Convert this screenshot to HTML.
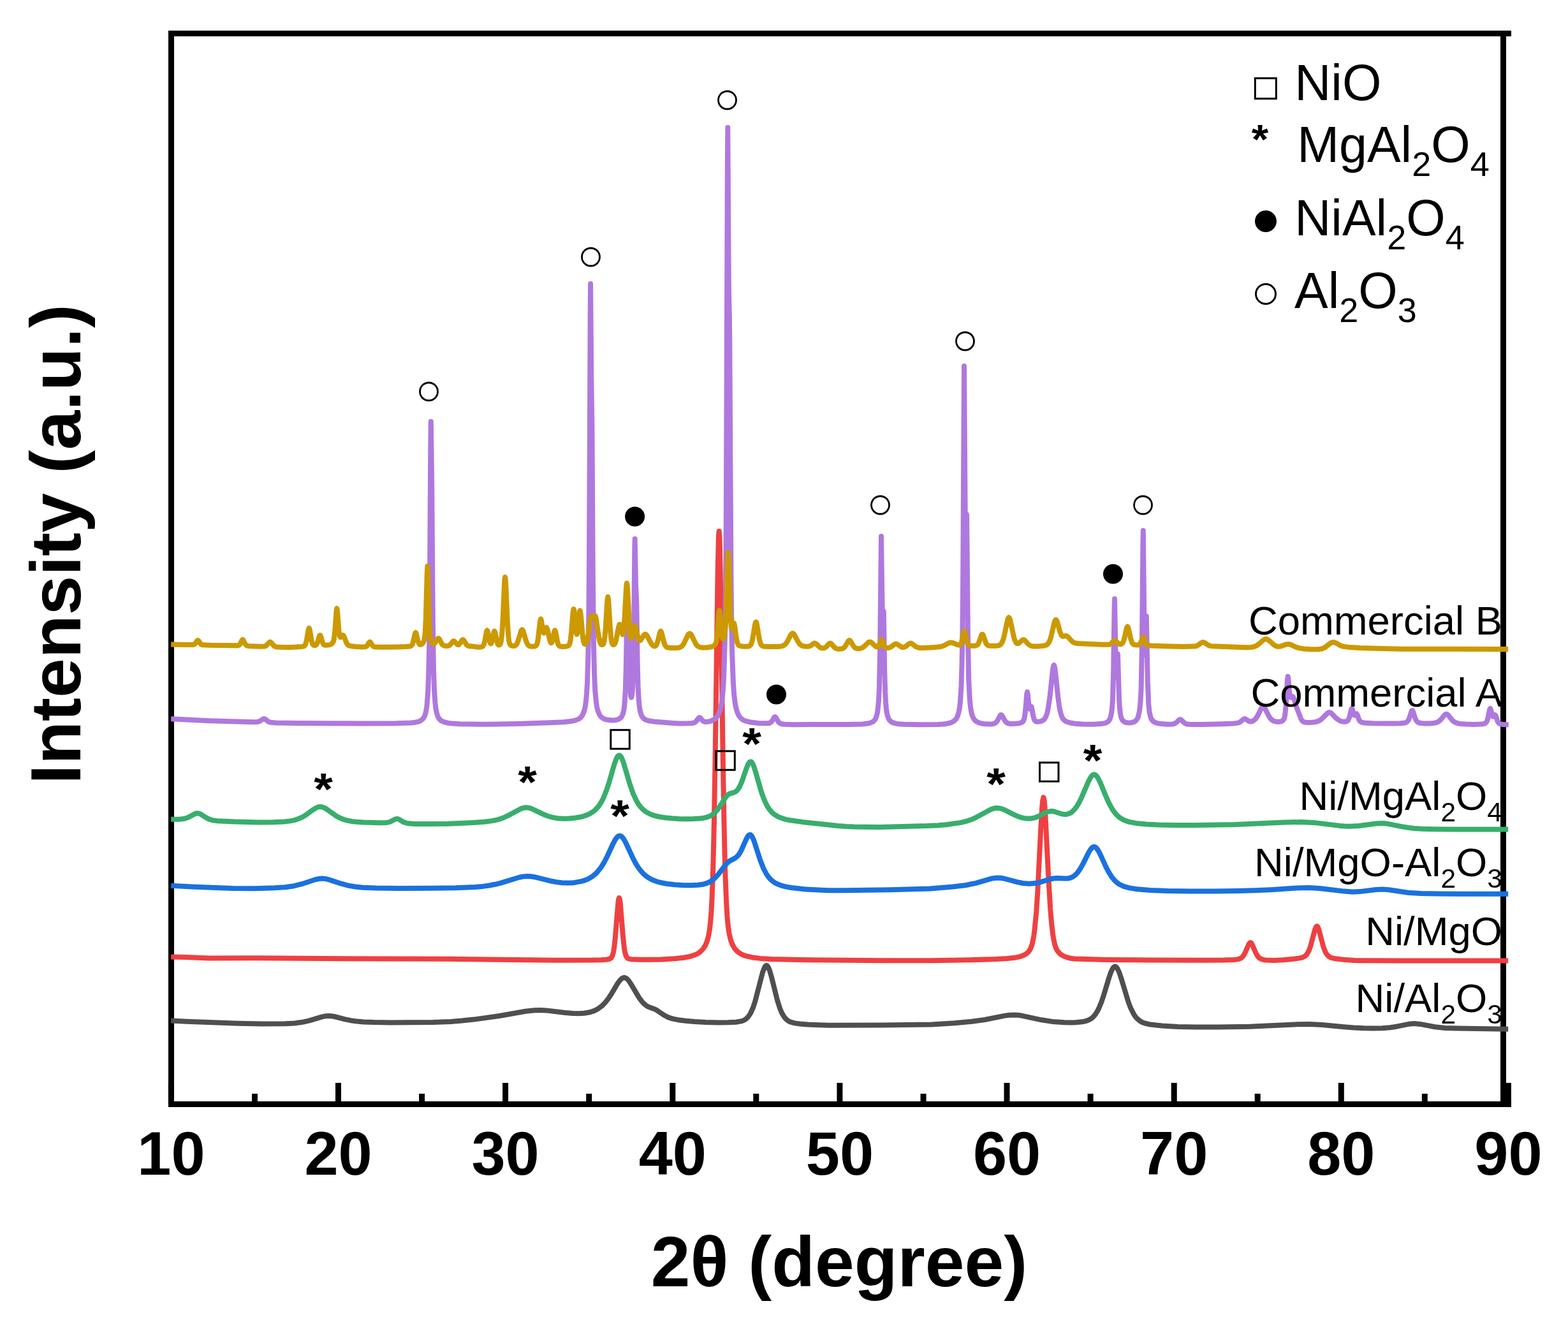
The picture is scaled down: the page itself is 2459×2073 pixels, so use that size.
<!DOCTYPE html>
<html><head><meta charset="utf-8"><title>XRD patterns</title>
<style>
html,body{margin:0;padding:0;background:#fff;}
svg{display:block;}
text{font-family:"Liberation Sans",Arial,sans-serif;}
</style></head><body>
<svg width="2459" height="2073" viewBox="0 0 2459 2073">
<rect width="2459" height="2073" fill="#fff"/>

<g stroke="#000" stroke-width="9" fill="none" stroke-linecap="butt">
<path d="M264 52.5H2370"/>
<path d="M264 1731.5H2370"/>
<path d="M268.5 48V1736"/>
<path d="M2357.5 48V1736"/>
<path d="M268.4 1731.5V1698.0M399.5 1731.5V1715.0M530.5 1731.5V1698.0M661.6 1731.5V1715.0M792.6 1731.5V1698.0M923.7 1731.5V1715.0M1054.8 1731.5V1698.0M1185.8 1731.5V1715.0M1316.9 1731.5V1698.0M1448.0 1731.5V1715.0M1579.0 1731.5V1698.0M1710.1 1731.5V1715.0M1841.2 1731.5V1698.0M1972.2 1731.5V1715.0M2103.3 1731.5V1698.0M2234.3 1731.5V1715.0M2365.4 1731.5V1698.0"/>
</g>
<g fill="none" stroke-width="8" stroke-linejoin="round" stroke-linecap="butt">
<path d="M268.2 1600.4L292.2 1601.7 373.2 1604.8 412.2 1605.5 447.2 1605.3 462.2 1604.5 474.2 1602.8 485.2 1600.3 505.2 1594.3 510.2 1593.3 515.2 1593.0 519.2 1593.2 524.2 1594.0 541.2 1598.3 550.2 1600.2 560.2 1601.6 570.2 1602.5 586.2 1603.1 612.2 1603.4 679.2 1603.0 707.2 1602.0 724.2 1600.6 743.2 1598.6 783.2 1593.0 824.2 1585.7 838.2 1584.2 847.2 1584.0 856.2 1584.4 886.2 1588.0 898.2 1589.0 908.2 1589.2 916.2 1588.8 925.2 1587.3 932.2 1584.9 938.2 1581.7 944.2 1577.1 949.2 1572.0 954.2 1565.6 959.2 1557.9 968.2 1542.8 971.2 1538.4 973.2 1536.1 975.2 1534.3 977.2 1533.3 979.0 1533.0 980.2 1533.2 982.2 1534.1 984.2 1535.8 986.2 1538.1 990.2 1544.2 1002.2 1564.4 1006.2 1569.9 1010.2 1574.2 1013.2 1576.6 1016.2 1578.5 1026.2 1582.2 1029.2 1583.6 1041.2 1591.8 1048.2 1595.4 1055.2 1597.6 1063.2 1599.2 1075.2 1600.7 1089.2 1601.9 1107.2 1602.9 1126.2 1603.4 1142.2 1603.3 1154.2 1602.7 1162.2 1601.4 1165.2 1600.5 1168.2 1599.0 1171.2 1596.7 1173.2 1594.6 1177.2 1588.6 1181.2 1579.4 1184.2 1570.3 1196.2 1524.0 1199.2 1516.5 1200.2 1515.0 1201.2 1514.2 1202.0 1514.0 1203.2 1514.5 1204.2 1515.6 1205.2 1517.4 1207.2 1522.5 1210.2 1533.0 1219.2 1569.1 1223.2 1581.5 1226.2 1588.6 1230.2 1595.3 1234.2 1599.4 1236.2 1600.9 1239.2 1602.4 1246.2 1604.4 1254.2 1605.5 1266.2 1606.5 1300.2 1607.7 1381.2 1607.4 1461.2 1606.4 1497.2 1604.3 1524.2 1601.8 1544.2 1599.0 1576.2 1592.6 1583.2 1591.8 1589.2 1591.5 1596.2 1591.8 1603.2 1592.8 1633.2 1599.3 1650.2 1601.9 1669.2 1603.3 1679.2 1603.5 1687.2 1603.2 1699.2 1601.9 1703.2 1601.0 1707.2 1599.5 1710.2 1597.9 1713.2 1595.7 1716.2 1592.6 1718.2 1590.0 1721.2 1585.1 1723.2 1581.2 1727.2 1571.5 1731.2 1559.7 1739.2 1533.0 1742.2 1524.4 1745.2 1518.2 1747.2 1516.0 1748.7 1515.5 1750.2 1516.1 1752.2 1518.4 1755.2 1524.8 1758.2 1533.7 1769.2 1570.2 1773.2 1580.8 1778.2 1590.6 1780.2 1593.6 1783.2 1597.2 1788.2 1601.3 1791.2 1603.0 1795.2 1604.5 1804.2 1606.6 1822.2 1608.6 1847.2 1609.9 1874.2 1610.5 1911.2 1610.5 1960.2 1609.8 2030.2 1606.4 2053.2 1606.0 2073.2 1607.0 2107.2 1610.3 2123.2 1611.5 2139.2 1612.3 2153.2 1612.6 2168.2 1612.2 2180.2 1611.2 2190.2 1609.7 2209.2 1605.8 2218.2 1605.0 2227.2 1605.9 2250.2 1610.3 2266.2 1611.9 2284.2 1612.5 2365.2 1613.7" stroke="#4f4f4f"/>
<path d="M268.2 1500.6L292.2 1501.0 328.2 1502.4 400.2 1502.3 540.2 1503.2 702.2 1503.7 873.2 1505.8 929.0 1505.6 943.2 1505.2 952.0 1504.5 956.3 1503.5 958.7 1501.8 960.6 1498.3 962.1 1492.4 963.4 1484.1 964.7 1472.0 969.2 1417.3 970.1 1410.3 970.6 1408.6 971.0 1408.0 971.5 1408.7 972.0 1410.7 973.0 1418.5 976.9 1467.5 978.9 1486.3 980.0 1492.9 981.3 1497.6 982.7 1500.8 984.5 1502.7 986.8 1503.6 990.2 1504.2 1004.0 1504.8 1036.2 1504.4 1057.2 1503.3 1072.2 1501.7 1083.0 1499.6 1091.2 1496.8 1094.7 1495.0 1097.7 1492.9 1102.2 1488.5 1105.7 1483.3 1108.7 1476.4 1111.0 1468.1 1112.8 1458.2 1114.2 1445.7 1115.5 1429.0 1116.6 1408.1 1118.4 1356.7 1120.0 1285.0 1121.8 1175.8 1125.6 899.2 1126.7 848.9 1127.2 837.1 1127.7 833.0 1128.2 837.3 1128.7 849.5 1129.7 898.0 1133.6 1180.0 1135.5 1290.2 1137.2 1365.8 1139.2 1416.7 1140.4 1437.0 1141.8 1452.2 1143.6 1464.2 1145.7 1473.4 1148.5 1481.0 1152.0 1487.1 1156.2 1491.9 1161.7 1495.8 1165.2 1497.4 1169.2 1498.9 1179.2 1501.2 1192.2 1502.9 1210.2 1504.0 1255.2 1505.1 1389.2 1506.3 1459.2 1506.2 1521.2 1505.2 1562.2 1504.1 1579.2 1503.1 1591.2 1501.8 1599.2 1500.2 1606.2 1497.5 1609.2 1495.8 1612.2 1493.2 1614.2 1490.7 1616.2 1487.2 1618.2 1481.9 1619.2 1478.2 1621.2 1467.9 1622.2 1460.9 1625.2 1430.1 1627.2 1399.9 1632.2 1300.2 1634.2 1265.8 1635.2 1255.1 1636.4 1250.3 1637.2 1252.5 1638.2 1260.9 1639.2 1274.7 1644.2 1374.6 1647.2 1425.0 1649.2 1449.0 1651.2 1465.8 1652.2 1472.0 1654.2 1481.1 1656.2 1487.0 1658.2 1490.8 1661.2 1494.6 1664.2 1497.1 1668.2 1499.3 1672.2 1500.9 1679.2 1502.8 1685.2 1503.4 1737.2 1504.9 1806.2 1505.5 1886.2 1505.7 1919.2 1505.6 1935.2 1505.0 1940.2 1504.4 1943.2 1503.7 1946.2 1502.3 1948.2 1500.7 1950.2 1498.3 1952.2 1494.8 1958.2 1481.0 1959.2 1479.3 1960.2 1478.3 1961.0 1478.0 1962.2 1478.6 1963.2 1480.0 1969.2 1493.9 1972.2 1499.2 1975.2 1502.4 1978.2 1504.0 1981.2 1504.9 1985.2 1505.5 1998.2 1506.0 2012.2 1505.3 2030.2 1503.5 2038.2 1502.4 2043.2 1501.1 2047.2 1498.8 2050.2 1495.3 2053.2 1489.4 2055.2 1483.7 2062.2 1457.4 2064.2 1452.9 2065.2 1452.3 2066.2 1452.9 2068.2 1457.4 2075.2 1484.0 2077.2 1489.7 2079.2 1494.1 2081.2 1497.1 2084.2 1500.0 2087.2 1501.6 2092.2 1503.0 2110.2 1505.1 2124.2 1506.0 2133.2 1506.2 2199.2 1506.5 2365.2 1506.5" stroke="#ef4041"/>
<path d="M268.2 1388.7L300.2 1390.6 365.2 1393.1 400.2 1393.3 430.2 1392.3 447.2 1391.2 461.2 1389.2 473.2 1386.2 495.2 1379.0 500.2 1378.0 505.2 1377.6 510.2 1378.0 515.2 1379.1 535.2 1385.7 546.2 1388.6 557.2 1390.5 569.2 1391.7 590.2 1392.5 625.2 1392.9 676.2 1392.8 714.2 1392.3 745.2 1391.0 757.2 1389.9 767.2 1388.5 776.2 1386.8 785.2 1384.6 814.2 1375.7 821.2 1374.4 827.2 1374.0 832.2 1374.3 838.2 1375.2 862.2 1381.2 874.2 1383.4 881.2 1384.2 888.2 1384.5 895.2 1384.4 901.2 1383.9 912.2 1381.9 917.2 1380.4 921.2 1378.8 925.2 1376.7 929.2 1374.2 933.2 1370.9 936.2 1368.0 942.2 1360.6 947.2 1352.6 952.2 1343.0 961.2 1323.5 965.2 1316.1 968.2 1312.3 970.2 1310.9 971.8 1310.6 973.2 1310.9 975.2 1312.2 977.2 1314.4 979.2 1317.5 982.2 1323.2 993.2 1346.9 997.2 1354.3 1001.2 1360.6 1005.2 1365.9 1009.2 1370.2 1013.2 1373.7 1017.2 1376.5 1023.2 1379.8 1029.2 1382.1 1036.2 1384.0 1045.2 1385.7 1058.2 1387.2 1070.2 1388.1 1083.2 1388.3 1094.2 1387.8 1102.2 1386.8 1109.2 1384.7 1115.2 1381.7 1121.2 1376.9 1126.2 1371.4 1136.2 1358.2 1140.2 1353.5 1144.2 1350.1 1153.2 1345.4 1157.2 1341.8 1160.2 1337.6 1162.2 1334.0 1170.2 1316.1 1172.2 1312.3 1174.2 1309.7 1175.2 1309.1 1176.2 1308.9 1177.2 1309.2 1179.2 1311.3 1182.2 1317.7 1192.2 1348.7 1197.2 1361.5 1202.2 1371.0 1205.2 1375.3 1208.2 1378.7 1212.2 1382.2 1216.2 1384.8 1221.2 1387.1 1226.2 1388.9 1233.2 1390.6 1241.2 1392.0 1261.2 1394.2 1278.2 1395.3 1299.2 1396.2 1324.2 1396.2 1396.2 1395.3 1458.2 1393.4 1494.2 1390.5 1515.2 1388.0 1530.2 1384.8 1554.2 1377.8 1559.2 1376.9 1564.2 1376.5 1569.2 1376.7 1574.2 1377.5 1595.2 1383.2 1604.2 1385.0 1614.2 1385.8 1623.2 1385.1 1631.2 1383.4 1645.2 1379.0 1651.2 1377.5 1658.2 1376.9 1669.2 1377.6 1674.2 1377.5 1679.2 1376.4 1683.2 1374.4 1686.2 1372.1 1689.2 1369.1 1694.2 1362.1 1698.2 1355.1 1707.2 1337.0 1710.2 1332.0 1713.2 1328.7 1714.2 1328.1 1716.0 1327.8 1717.2 1328.1 1719.2 1329.5 1722.2 1333.5 1725.2 1339.1 1734.2 1358.8 1738.2 1366.6 1743.2 1374.7 1746.2 1378.6 1749.2 1381.8 1752.2 1384.4 1755.2 1386.5 1762.2 1389.9 1771.2 1392.4 1783.2 1394.2 1804.2 1395.9 1831.2 1397.0 1865.2 1397.6 1905.2 1397.6 1940.2 1397.1 1968.2 1396.3 1992.2 1395.2 2033.2 1392.5 2052.2 1392.0 2069.2 1393.0 2108.2 1397.6 2120.2 1398.5 2124.2 1398.6 2132.2 1398.1 2158.2 1395.0 2168.0 1394.5 2178.2 1395.3 2208.2 1399.7 2228.2 1401.1 2257.2 1401.6 2365.2 1401.8" stroke="#1a71df"/>
<path d="M268.2 1284.8L281.2 1284.7 289.2 1283.7 295.2 1281.7 306.2 1275.9 308.2 1275.3 310.0 1275.2 312.2 1275.6 314.2 1276.4 323.2 1282.1 328.2 1284.6 334.2 1286.4 341.2 1287.3 368.2 1288.6 406.2 1289.4 428.2 1289.3 446.2 1288.4 453.2 1287.6 459.2 1286.6 464.2 1285.3 469.2 1283.5 473.2 1281.7 478.2 1278.9 491.2 1269.6 495.2 1267.1 499.2 1265.4 502.2 1265.0 505.2 1265.4 509.2 1267.0 513.2 1269.5 527.2 1279.5 532.2 1282.3 538.2 1284.8 544.2 1286.5 551.2 1287.9 559.2 1288.7 570.2 1289.4 596.2 1290.2 606.2 1289.9 609.2 1289.4 612.2 1288.5 620.2 1284.3 622.7 1283.8 625.2 1284.5 632.2 1288.7 636.2 1290.3 641.2 1291.3 650.2 1291.9 672.2 1292.1 702.2 1291.7 737.2 1290.2 759.2 1288.8 773.2 1286.9 779.2 1285.6 785.2 1283.8 790.2 1282.0 796.2 1279.2 816.2 1268.4 820.2 1267.0 824.8 1266.3 829.2 1266.7 833.2 1267.8 854.2 1277.8 860.2 1280.0 867.2 1281.9 875.2 1283.2 883.2 1283.7 892.2 1283.5 902.2 1282.5 909.2 1281.3 915.2 1279.8 920.2 1278.1 925.2 1275.8 929.2 1273.4 933.2 1270.3 937.2 1266.1 940.2 1262.2 943.2 1257.3 946.2 1251.5 951.2 1239.1 955.2 1226.9 963.2 1199.0 966.2 1190.5 968.2 1186.5 969.2 1185.3 971.0 1184.4 972.2 1184.8 974.2 1187.1 977.2 1194.0 988.2 1231.1 993.2 1245.2 998.2 1255.9 1001.2 1260.8 1004.2 1264.9 1008.2 1269.2 1012.2 1272.4 1017.2 1275.4 1022.2 1277.6 1028.2 1279.5 1035.2 1281.0 1043.2 1282.2 1054.2 1283.3 1065.2 1284.0 1076.2 1284.3 1087.2 1284.1 1096.2 1283.6 1103.2 1282.7 1108.2 1281.6 1113.2 1279.7 1117.2 1277.4 1121.2 1274.1 1125.2 1269.6 1129.2 1264.0 1137.2 1251.4 1140.2 1247.6 1142.2 1245.8 1144.2 1244.6 1151.2 1242.6 1153.2 1241.7 1155.2 1240.1 1157.2 1237.9 1160.2 1232.9 1163.2 1226.2 1170.2 1205.9 1173.2 1198.5 1175.2 1195.4 1176.2 1194.6 1177.2 1194.4 1178.2 1194.7 1179.2 1195.7 1180.2 1197.2 1182.2 1201.7 1185.2 1211.1 1193.2 1239.3 1196.2 1248.3 1199.2 1255.8 1202.2 1262.1 1206.2 1268.6 1210.2 1273.4 1214.2 1276.9 1219.2 1280.1 1224.2 1282.3 1231.2 1284.6 1239.2 1286.3 1258.2 1288.9 1314.2 1295.1 1327.2 1296.1 1339.2 1296.6 1379.2 1296.9 1453.2 1295.1 1471.2 1294.2 1483.2 1293.3 1505.2 1290.1 1512.2 1288.6 1519.2 1286.6 1525.2 1284.4 1531.2 1281.6 1553.2 1269.6 1558.2 1267.7 1562.2 1267.0 1566.2 1267.2 1571.2 1268.3 1576.2 1270.4 1589.2 1277.0 1596.2 1280.2 1603.2 1282.4 1610.2 1283.6 1617.2 1283.4 1623.2 1282.1 1629.2 1279.7 1641.2 1273.7 1644.2 1272.6 1647.2 1272.1 1650.2 1272.0 1653.2 1272.5 1663.2 1275.8 1667.2 1276.7 1671.2 1277.0 1674.2 1276.6 1678.2 1275.1 1681.2 1273.1 1685.2 1269.2 1688.2 1265.2 1691.2 1260.4 1695.2 1252.7 1706.2 1227.1 1709.2 1221.0 1711.2 1217.8 1713.2 1215.6 1714.2 1214.9 1716.0 1214.5 1717.2 1214.8 1719.2 1216.2 1722.2 1220.4 1726.2 1228.7 1734.2 1248.4 1739.2 1259.5 1744.2 1268.6 1749.2 1275.6 1752.2 1278.8 1755.2 1281.5 1758.2 1283.6 1762.2 1285.8 1766.2 1287.4 1771.2 1288.9 1782.2 1290.9 1798.2 1292.4 1818.2 1293.5 1844.2 1294.0 1873.2 1294.1 1936.2 1293.0 2014.2 1289.4 2041.2 1289.0 2060.2 1289.9 2101.2 1294.9 2108.2 1295.5 2116.2 1295.7 2131.2 1295.0 2157.2 1291.5 2167.2 1291.0 2172.2 1291.3 2178.2 1292.1 2198.2 1296.1 2208.2 1297.8 2218.2 1298.9 2230.2 1299.7 2250.2 1300.3 2284.2 1300.6 2365.2 1300.4" stroke="#38ae6c"/>
<path d="M268.2 1127.2L328.2 1130.2 398.0 1132.2 402.8 1132.0 405.8 1131.5 408.3 1130.3 412.4 1127.5 414.0 1127.0 415.6 1127.5 419.9 1130.9 422.7 1132.3 426.3 1133.1 432.8 1133.5 465.2 1134.1 570.2 1134.4 621.2 1134.2 644.2 1133.5 651.2 1132.7 656.2 1131.6 660.2 1129.8 663.1 1127.3 665.2 1124.2 666.9 1120.1 668.2 1114.7 669.4 1107.4 671.1 1085.9 672.2 1056.4 673.1 1014.3 673.7 954.6 675.3 701.9 675.8 661.0 677.2 761.9 678.9 980.0 680.0 1050.9 681.1 1082.8 682.4 1101.6 683.2 1109.2 684.4 1116.0 685.6 1120.7 687.1 1124.5 689.4 1127.9 692.2 1130.4 696.2 1132.2 702.2 1133.7 710.2 1134.6 721.2 1135.3 755.2 1135.8 783.2 1135.6 818.2 1134.8 861.2 1133.3 884.2 1132.2 895.2 1131.0 902.2 1129.6 907.2 1127.6 909.2 1126.3 911.2 1124.5 914.0 1120.3 916.0 1115.2 917.8 1107.7 919.0 1098.9 920.0 1088.1 921.0 1071.3 922.3 1029.0 923.3 970.7 924.0 882.4 925.7 492.5 926.1 445.0 927.3 594.9 928.4 667.5 929.9 909.5 931.0 1009.9 932.0 1053.8 933.2 1082.1 935.0 1101.7 936.2 1109.1 937.5 1114.5 939.8 1120.1 941.2 1122.4 943.2 1124.6 945.2 1126.1 948.2 1127.6 951.2 1128.5 955.2 1129.1 960.2 1129.4 964.2 1129.2 967.2 1128.7 970.4 1127.6 972.6 1126.2 974.4 1124.4 975.9 1122.0 977.1 1118.7 978.4 1113.1 979.4 1105.5 980.8 1082.2 981.8 1047.9 983.1 969.9 983.5 959.9 984.8 994.6 986.0 1011.8 988.0 1078.3 989.2 1091.7 989.9 1093.7 990.2 1093.6 990.6 1092.5 991.5 1086.3 992.2 1075.5 993.3 1039.9 994.1 982.9 995.3 863.4 995.7 845.1 997.0 915.9 998.3 944.9 999.6 1035.7 1000.6 1075.7 1001.4 1092.1 1002.6 1107.2 1004.1 1116.1 1005.9 1121.6 1007.9 1125.0 1010.2 1127.3 1013.2 1129.0 1017.2 1130.2 1025.2 1131.4 1053.2 1133.8 1065.8 1134.5 1080.0 1134.3 1085.2 1134.0 1088.2 1133.4 1090.0 1132.7 1091.4 1131.5 1095.6 1126.0 1096.9 1125.0 1098.3 1125.7 1101.3 1129.4 1102.8 1130.9 1104.6 1131.7 1106.7 1132.0 1111.5 1131.5 1116.2 1130.1 1120.0 1128.1 1123.2 1125.5 1125.0 1123.2 1126.6 1120.6 1129.2 1113.9 1131.2 1105.2 1132.9 1093.3 1134.1 1079.0 1135.2 1059.4 1136.9 1001.8 1138.1 917.5 1138.9 795.8 1140.8 269.4 1141.3 200.0 1142.8 445.0 1143.2 472.3 1143.9 496.7 1144.3 536.6 1146.4 897.5 1147.1 967.7 1148.1 1022.8 1149.9 1070.6 1151.1 1088.2 1152.6 1101.3 1154.4 1110.7 1156.6 1117.9 1159.2 1123.0 1161.2 1125.5 1163.2 1127.3 1166.2 1129.3 1169.2 1130.6 1177.2 1132.6 1189.7 1133.9 1204.0 1134.2 1207.0 1133.7 1209.2 1132.4 1211.0 1130.2 1214.1 1124.9 1214.8 1124.2 1215.4 1124.0 1216.8 1125.2 1220.9 1132.3 1222.3 1133.7 1223.9 1134.6 1226.3 1135.3 1230.2 1135.8 1243.9 1136.2 1331.2 1135.9 1352.2 1135.4 1360.2 1134.6 1365.2 1133.5 1369.0 1131.7 1371.8 1129.1 1373.2 1126.6 1374.5 1123.4 1375.5 1119.6 1376.5 1113.8 1377.9 1099.6 1378.9 1078.9 1380.2 1015.4 1382.0 841.0 1383.8 969.1 1384.4 979.5 1385.3 959.2 1385.5 957.9 1385.8 960.9 1387.2 1049.9 1388.2 1085.2 1389.0 1101.0 1390.0 1112.3 1391.2 1120.1 1393.0 1125.9 1394.8 1129.1 1397.2 1131.6 1400.2 1133.2 1404.2 1134.4 1409.2 1135.2 1417.2 1135.7 1442.2 1136.2 1471.2 1135.9 1479.2 1135.5 1485.2 1134.7 1490.2 1133.5 1494.2 1131.9 1497.2 1129.8 1500.0 1126.4 1502.0 1122.2 1503.5 1117.1 1504.8 1110.5 1505.8 1102.5 1507.5 1075.9 1508.6 1039.2 1509.4 989.9 1510.1 917.3 1512.0 574.0 1514.0 854.2 1514.3 869.0 1514.5 871.3 1514.7 869.8 1515.7 811.6 1515.9 806.8 1516.1 810.0 1518.0 1004.3 1519.2 1066.3 1520.8 1096.9 1521.8 1107.4 1522.8 1114.1 1524.2 1120.6 1526.2 1125.5 1528.5 1129.0 1531.2 1131.4 1536.0 1133.6 1542.5 1135.0 1551.5 1135.5 1555.5 1135.4 1558.3 1134.9 1560.8 1133.8 1562.8 1132.0 1564.7 1129.2 1568.3 1122.4 1569.2 1121.3 1570.0 1121.0 1570.9 1121.4 1571.8 1122.4 1575.2 1128.8 1576.9 1131.4 1578.7 1133.2 1580.7 1134.2 1585.2 1135.0 1593.0 1134.8 1598.8 1134.1 1602.5 1132.7 1604.1 1131.5 1605.2 1129.8 1606.1 1127.3 1606.9 1123.9 1608.2 1113.6 1610.2 1089.0 1611.0 1085.0 1611.7 1087.9 1613.4 1104.6 1614.3 1110.6 1614.8 1111.8 1615.3 1112.0 1617.0 1108.1 1617.3 1107.9 1617.7 1108.3 1620.6 1124.0 1622.3 1129.2 1623.2 1130.4 1624.2 1131.2 1627.5 1131.8 1632.0 1131.2 1636.0 1129.3 1638.2 1127.1 1640.2 1123.8 1642.2 1118.1 1643.2 1114.0 1646.2 1094.7 1651.2 1048.5 1652.2 1043.8 1652.8 1043.0 1653.2 1043.4 1654.2 1047.3 1655.2 1054.7 1659.2 1093.2 1661.2 1107.8 1662.2 1113.3 1664.2 1121.1 1666.2 1125.8 1668.2 1128.6 1670.2 1130.3 1672.2 1131.5 1678.2 1133.5 1686.2 1134.7 1697.2 1135.4 1714.2 1135.7 1726.2 1135.1 1733.2 1133.9 1735.8 1132.8 1737.8 1131.4 1739.2 1129.8 1740.5 1127.7 1742.5 1121.3 1743.9 1111.8 1744.9 1097.9 1746.1 1057.3 1747.6 953.9 1748.0 939.0 1749.6 1030.5 1750.3 1056.0 1750.8 1061.7 1751.0 1061.9 1751.2 1060.3 1752.5 1028.7 1752.8 1025.3 1753.0 1026.5 1755.0 1096.0 1755.8 1108.8 1757.0 1119.8 1758.0 1124.3 1759.5 1128.1 1761.5 1130.7 1764.2 1132.4 1766.2 1133.0 1769.2 1133.4 1774.2 1133.2 1778.8 1131.8 1780.5 1130.7 1782.0 1129.3 1783.8 1126.7 1785.0 1123.7 1787.0 1114.9 1788.5 1100.9 1789.6 1079.6 1790.9 1014.5 1792.4 854.9 1792.8 832.0 1794.5 984.0 1795.4 1023.9 1795.9 1026.8 1796.3 1020.4 1797.8 966.2 1799.8 1069.2 1801.3 1104.4 1802.5 1116.2 1804.3 1124.1 1805.5 1127.2 1807.2 1129.7 1808.8 1131.3 1810.8 1132.6 1815.0 1134.1 1821.2 1135.1 1830.8 1135.7 1838.8 1135.5 1841.4 1134.9 1843.5 1133.9 1845.5 1132.4 1849.1 1128.8 1850.8 1128.0 1852.5 1128.8 1856.2 1132.6 1858.2 1134.1 1860.5 1135.2 1863.5 1135.7 1871.2 1136.1 1885.8 1136.1 1917.0 1135.2 1935.0 1134.4 1941.3 1133.6 1944.8 1132.2 1950.0 1127.7 1951.9 1127.0 1953.5 1127.5 1958.5 1130.9 1960.3 1131.4 1962.2 1131.4 1964.1 1130.9 1966.0 1129.9 1969.5 1126.7 1972.5 1122.0 1978.2 1110.3 1979.5 1108.7 1980.8 1108.0 1982.0 1108.5 1983.2 1109.9 1990.0 1123.2 1992.0 1126.2 1994.2 1128.6 1997.2 1130.5 2000.8 1131.6 2005.5 1131.9 2009.5 1131.2 2011.8 1129.9 2013.3 1127.9 2014.5 1124.9 2015.3 1120.3 2016.8 1104.7 2018.9 1066.3 2019.7 1060.7 2020.3 1064.3 2022.2 1086.4 2023.3 1092.5 2023.8 1093.4 2024.3 1093.6 2026.0 1092.1 2026.8 1091.9 2028.1 1093.2 2029.5 1096.6 2033.3 1108.9 2039.9 1126.5 2041.2 1129.0 2042.5 1130.7 2044.0 1131.8 2045.8 1132.4 2050.8 1132.9 2058.0 1132.7 2063.0 1132.1 2067.0 1130.9 2070.2 1129.3 2073.2 1127.0 2082.2 1117.9 2084.7 1117.0 2086.2 1117.3 2088.2 1118.7 2095.4 1126.2 2100.2 1129.6 2102.9 1130.8 2105.8 1131.4 2109.0 1131.7 2111.5 1131.3 2113.7 1130.0 2115.3 1127.3 2116.7 1123.0 2119.0 1112.8 2119.5 1111.4 2120.0 1111.0 2120.8 1112.1 2122.7 1119.1 2123.8 1121.4 2124.3 1121.8 2124.8 1121.7 2126.8 1119.2 2127.6 1119.1 2128.5 1120.7 2131.1 1128.1 2132.7 1130.8 2135.1 1132.6 2139.5 1133.5 2153.2 1134.3 2181.2 1134.6 2196.2 1134.3 2203.5 1133.5 2206.4 1132.1 2208.6 1129.6 2210.4 1125.4 2213.4 1115.7 2214.1 1114.4 2214.7 1114.0 2215.3 1114.4 2216.0 1115.8 2219.1 1125.6 2221.0 1129.9 2223.3 1132.4 2226.7 1133.7 2232.7 1134.4 2241.2 1134.5 2247.7 1134.1 2252.2 1133.2 2255.2 1131.9 2257.2 1130.5 2260.2 1127.6 2265.2 1121.4 2267.2 1119.8 2268.2 1119.6 2269.2 1119.8 2271.2 1121.4 2276.2 1127.8 2279.2 1130.8 2282.2 1132.8 2285.2 1134.0 2290.2 1134.9 2299.2 1135.6 2311.5 1135.9 2322.2 1135.6 2325.9 1135.2 2328.4 1134.6 2330.1 1133.6 2331.4 1132.0 2333.1 1127.5 2336.0 1113.3 2336.6 1111.6 2337.1 1111.0 2337.9 1112.4 2339.8 1120.3 2340.8 1123.1 2341.4 1123.7 2341.9 1123.7 2344.0 1121.1 2344.5 1120.9 2344.9 1121.2 2345.8 1122.8 2348.5 1130.7 2349.5 1132.7 2350.6 1134.0 2352.4 1135.1 2355.0 1135.7 2365.8 1136.6" stroke="#af78de"/>
<path d="M268.2 1010.5L292.2 1011.1 302.9 1011.0 304.4 1010.5 305.7 1009.7 309.0 1004.8 310.2 1004.0 311.4 1004.8 314.9 1010.0 316.2 1010.9 318.0 1011.3 329.4 1011.8 372.1 1012.3 374.3 1011.9 375.8 1010.8 377.1 1008.9 379.5 1004.0 380.6 1003.0 381.7 1004.0 384.1 1009.1 385.4 1011.1 387.0 1012.3 389.2 1012.9 408.4 1013.8 414.8 1013.6 416.4 1013.1 417.8 1012.2 422.0 1007.4 423.6 1006.5 425.1 1007.4 429.7 1012.9 431.4 1013.8 433.4 1014.4 440.6 1014.8 453.6 1014.9 464.9 1014.5 473.1 1013.9 475.6 1013.5 477.2 1012.9 478.3 1011.8 479.2 1010.0 480.9 1003.9 483.5 987.7 484.1 985.7 484.6 985.0 485.2 985.7 485.8 988.0 489.0 1006.3 490.1 1009.6 491.4 1011.4 492.6 1012.0 494.2 1012.0 495.5 1011.5 496.5 1010.4 498.1 1006.8 500.7 997.6 501.3 996.4 501.8 996.0 502.4 996.4 503.0 997.9 506.0 1007.8 507.5 1010.6 508.7 1011.4 510.3 1011.7 516.2 1011.2 519.2 1010.2 521.2 1008.6 522.6 1006.4 523.6 1002.9 525.1 992.0 527.4 959.7 527.9 955.5 528.3 954.0 529.1 958.8 531.4 988.9 532.9 997.8 533.5 999.0 534.2 999.3 537.0 996.1 537.7 995.9 538.4 996.3 539.6 998.4 543.8 1008.8 545.4 1011.1 547.3 1012.4 550.8 1013.2 557.8 1013.9 567.5 1014.4 572.8 1014.3 574.3 1013.8 575.5 1012.8 578.8 1007.4 580.0 1006.5 581.2 1007.4 584.7 1013.0 586.1 1014.0 588.0 1014.5 598.8 1014.7 623.2 1014.4 636.3 1014.1 642.8 1013.5 645.2 1012.4 646.9 1009.9 648.2 1005.5 650.7 994.2 651.3 992.5 651.8 992.0 652.4 992.5 652.9 994.0 655.3 1004.5 656.6 1008.4 658.1 1010.6 659.0 1010.9 660.1 1010.8 662.6 1009.1 664.5 1005.9 665.7 1001.3 666.6 993.9 667.8 970.2 669.7 899.7 670.4 888.0 671.1 899.7 673.0 969.0 674.0 991.4 674.8 999.4 675.9 1004.4 677.4 1007.8 678.4 1008.8 679.4 1009.4 680.8 1009.3 682.1 1008.4 686.0 1002.1 687.4 1001.0 688.2 1001.2 689.0 1002.2 692.3 1008.6 694.1 1011.0 696.2 1012.4 699.1 1012.9 702.6 1012.8 704.9 1011.9 706.7 1010.2 710.0 1005.9 711.4 1005.0 712.9 1005.8 716.9 1010.4 718.0 1011.0 719.1 1010.9 721.0 1009.3 724.5 1003.8 725.8 1003.0 726.6 1003.3 727.4 1004.2 731.5 1010.8 732.7 1012.0 734.1 1012.8 736.2 1013.3 741.9 1013.6 749.8 1014.8 755.3 1014.4 756.5 1013.9 757.5 1013.1 759.0 1010.1 760.4 1004.7 762.8 991.3 763.4 989.2 763.9 988.6 764.5 989.3 765.1 991.5 767.8 1005.6 769.2 1009.1 769.6 1009.4 770.1 1009.1 771.1 1007.1 774.3 992.3 774.9 990.4 775.4 989.8 776.0 990.4 776.5 992.2 778.9 1004.2 780.2 1008.8 781.0 1010.4 781.8 1011.3 782.8 1011.5 783.8 1011.0 784.9 1009.2 785.8 1005.8 787.3 993.2 788.6 971.6 791.0 916.0 791.5 907.8 792.1 905.0 792.6 907.5 793.2 915.6 795.8 975.0 797.3 997.5 798.1 1004.6 799.1 1008.9 800.4 1011.3 802.4 1012.6 804.8 1013.1 807.0 1012.8 808.8 1011.8 810.3 1010.1 812.7 1004.6 817.0 990.0 817.9 988.0 818.8 987.4 819.6 988.0 820.5 989.8 825.2 1005.7 826.7 1009.2 828.2 1011.5 830.3 1013.1 833.2 1013.8 838.0 1013.6 839.5 1013.1 840.6 1012.5 842.2 1009.9 843.4 1004.7 846.9 975.2 847.5 971.6 848.1 970.6 849.0 973.0 851.1 987.2 852.2 991.8 852.8 992.6 853.4 992.3 856.1 984.8 856.8 984.0 857.4 984.4 858.8 988.2 862.1 1003.6 863.0 1006.4 863.9 1007.9 864.4 1008.2 865.0 1007.9 866.0 1005.9 869.1 991.0 869.7 989.1 870.2 988.6 870.8 989.3 871.4 991.4 874.5 1007.7 875.5 1010.6 876.6 1012.4 878.5 1013.6 882.1 1014.0 887.8 1013.7 891.1 1012.7 892.4 1011.6 893.3 1009.7 894.8 1002.8 896.1 991.1 898.5 961.1 899.1 956.5 899.6 955.0 900.2 956.4 900.7 960.5 903.3 989.3 904.0 993.2 904.6 994.7 905.3 993.3 906.0 988.8 908.8 960.3 909.4 957.7 909.6 957.5 909.9 958.0 910.9 964.8 914.0 999.3 915.1 1006.1 916.5 1009.6 917.6 1010.1 918.8 1009.3 919.9 1007.1 921.0 1003.7 922.6 994.8 925.7 972.8 927.0 966.9 928.1 965.5 930.5 966.5 932.8 965.5 933.4 965.8 933.9 966.7 934.9 970.7 938.5 995.9 940.3 1004.9 941.3 1008.0 942.4 1010.0 943.7 1011.0 945.1 1010.9 946.2 1009.7 947.1 1007.4 948.5 998.4 949.8 983.1 952.2 943.8 952.8 938.0 953.3 936.0 953.8 937.8 954.4 943.8 956.9 984.7 958.3 1000.9 959.2 1006.1 960.1 1009.3 961.3 1010.9 962.1 1011.1 962.8 1010.9 964.5 1008.9 966.0 1004.7 970.0 983.4 971.4 979.2 971.7 979.0 972.1 979.2 972.9 980.8 976.1 994.3 976.5 995.0 976.9 994.9 977.6 993.0 979.0 979.2 981.9 924.6 982.5 916.9 983.0 914.5 983.6 917.2 984.2 925.1 987.3 986.6 988.4 996.7 988.9 999.5 989.5 1000.7 990.2 1000.5 990.9 998.8 994.2 983.9 994.9 981.7 995.6 981.0 996.4 981.8 997.1 984.1 1000.6 1000.2 1001.5 1002.7 1002.4 1004.1 1003.4 1004.6 1004.5 1004.0 1009.9 995.8 1011.2 994.6 1012.5 994.6 1013.6 995.4 1015.0 997.3 1019.5 1006.1 1021.6 1009.7 1023.7 1012.0 1025.7 1013.2 1027.0 1013.3 1028.0 1012.8 1029.0 1011.7 1030.0 1010.0 1031.6 1005.2 1034.7 992.4 1035.5 990.4 1036.2 989.8 1036.9 990.5 1037.7 992.6 1040.8 1005.5 1042.4 1010.6 1044.2 1013.8 1046.6 1015.3 1051.7 1016.0 1060.7 1016.0 1065.0 1015.5 1068.0 1014.3 1070.2 1012.4 1072.2 1009.6 1079.2 995.3 1080.2 994.0 1081.6 993.3 1083.2 994.2 1084.2 995.6 1091.2 1009.7 1093.2 1012.3 1095.2 1013.9 1098.2 1015.1 1101.2 1015.4 1107.2 1015.4 1113.2 1014.8 1117.5 1013.7 1120.2 1012.1 1122.0 1010.0 1123.2 1006.7 1124.9 995.5 1127.3 963.1 1128.2 957.5 1128.5 958.2 1129.0 961.3 1131.0 987.7 1132.4 998.3 1133.2 1001.3 1133.7 1002.0 1134.2 1002.2 1135.3 1000.9 1136.2 997.5 1137.4 987.2 1138.5 969.4 1141.2 878.9 1142.0 866.0 1142.8 879.3 1145.2 959.0 1146.0 973.9 1146.8 982.5 1147.3 985.0 1147.6 985.3 1147.9 985.2 1150.1 977.7 1150.6 976.9 1151.1 977.1 1152.2 982.0 1154.9 1001.8 1156.5 1008.5 1157.5 1010.7 1158.8 1012.1 1160.8 1012.9 1163.8 1013.5 1169.2 1013.8 1173.8 1013.5 1176.0 1012.5 1177.6 1010.6 1178.8 1007.8 1179.9 1003.8 1183.9 979.6 1184.8 976.4 1185.5 975.4 1186.2 976.4 1187.0 979.2 1190.4 1000.2 1192.4 1008.3 1193.5 1010.9 1194.9 1012.4 1196.6 1013.3 1199.2 1013.7 1207.2 1014.0 1219.2 1013.9 1225.2 1013.4 1228.2 1012.6 1231.2 1010.7 1233.2 1008.4 1235.2 1005.2 1240.2 995.3 1241.8 993.5 1243.0 993.0 1244.2 993.5 1245.8 995.3 1250.8 1005.0 1252.8 1008.3 1254.8 1010.6 1257.0 1012.2 1259.2 1013.0 1262.0 1013.5 1265.8 1013.8 1268.5 1013.6 1271.5 1012.5 1276.3 1008.9 1278.0 1008.5 1279.9 1009.5 1285.4 1014.8 1287.4 1015.9 1289.6 1016.4 1292.2 1016.2 1294.4 1015.3 1296.3 1013.7 1300.1 1009.4 1302.0 1008.5 1303.7 1009.4 1308.3 1014.8 1311.0 1016.8 1312.9 1017.4 1315.3 1017.7 1320.8 1017.2 1322.9 1016.2 1324.7 1014.6 1326.4 1012.1 1330.0 1005.6 1331.1 1004.4 1332.0 1004.0 1332.9 1004.3 1334.0 1005.5 1337.6 1011.9 1339.3 1014.3 1341.1 1015.9 1343.2 1016.7 1345.4 1017.0 1348.0 1016.9 1350.5 1016.4 1352.5 1015.6 1355.8 1013.3 1361.3 1007.7 1362.6 1006.9 1363.8 1006.5 1365.2 1006.7 1366.6 1007.5 1373.3 1013.7 1374.9 1014.5 1376.1 1014.6 1377.3 1014.0 1378.3 1012.6 1381.4 1004.4 1382.0 1003.3 1382.6 1003.0 1383.2 1003.4 1383.8 1004.5 1386.0 1011.2 1387.2 1013.8 1388.6 1015.4 1390.3 1016.1 1393.1 1016.0 1395.8 1015.2 1398.2 1013.8 1402.6 1010.4 1404.8 1009.5 1407.2 1010.2 1413.2 1014.3 1415.2 1014.9 1417.2 1015.0 1420.2 1013.8 1425.2 1009.7 1426.2 1009.0 1428.0 1008.5 1430.2 1009.3 1436.2 1014.0 1440.2 1015.6 1443.2 1015.9 1448.2 1016.0 1466.2 1015.0 1473.2 1014.3 1477.2 1013.5 1481.2 1012.0 1488.0 1008.3 1490.8 1007.5 1494.0 1008.0 1502.0 1011.2 1504.0 1011.5 1505.5 1011.2 1506.8 1009.8 1507.9 1007.1 1511.1 992.3 1511.7 990.4 1512.3 989.8 1512.9 990.4 1513.5 992.3 1516.9 1008.0 1518.2 1010.7 1519.8 1012.1 1522.8 1012.7 1528.3 1012.7 1530.9 1012.3 1532.7 1011.3 1533.9 1009.9 1534.9 1008.0 1538.9 996.6 1539.7 995.0 1540.5 994.5 1541.2 995.0 1542.1 996.5 1546.1 1008.1 1547.2 1010.2 1548.5 1011.5 1550.2 1012.4 1552.8 1012.8 1563.5 1012.7 1566.5 1012.1 1568.8 1010.9 1570.5 1008.9 1572.2 1005.7 1573.8 1001.1 1575.2 995.4 1580.2 971.6 1581.2 969.1 1582.1 968.3 1583.2 969.5 1584.2 972.3 1590.2 1000.0 1591.2 1003.2 1593.2 1007.4 1594.2 1008.5 1595.2 1009.1 1597.2 1008.9 1599.2 1007.4 1603.2 1003.6 1605.2 1003.0 1607.2 1004.1 1612.2 1009.8 1614.2 1011.5 1617.2 1012.9 1621.2 1013.5 1629.2 1013.4 1637.2 1012.5 1641.2 1011.3 1643.2 1009.7 1645.2 1006.9 1647.2 1002.0 1649.2 994.7 1653.2 977.1 1654.2 974.0 1655.2 972.1 1655.7 971.8 1656.2 971.9 1657.2 973.2 1658.2 975.9 1662.2 990.4 1664.2 995.4 1665.2 996.8 1666.2 997.6 1667.2 997.9 1671.2 997.0 1673.2 997.4 1675.2 999.0 1679.2 1003.7 1682.2 1006.5 1685.2 1008.1 1690.2 1009.0 1730.0 1010.7 1738.4 1010.7 1740.5 1010.3 1742.2 1009.5 1746.8 1004.7 1748.3 1004.0 1749.8 1004.7 1752.9 1008.2 1754.5 1009.5 1756.4 1010.2 1758.4 1010.0 1759.5 1009.4 1760.4 1008.4 1762.1 1005.0 1763.6 999.6 1766.6 985.7 1767.5 983.4 1768.2 982.6 1768.9 983.3 1769.7 985.5 1773.1 1001.2 1775.1 1007.3 1776.2 1009.2 1777.6 1010.4 1779.4 1011.1 1782.0 1011.4 1785.5 1011.2 1787.5 1010.0 1789.0 1007.3 1791.6 1000.2 1792.7 999.0 1793.3 999.4 1793.9 1000.5 1797.1 1009.2 1798.3 1010.8 1799.7 1011.7 1805.0 1012.4 1827.2 1013.3 1855.2 1013.9 1872.2 1013.6 1875.2 1013.2 1877.2 1012.5 1879.2 1011.4 1884.2 1007.8 1886.6 1007.0 1889.2 1007.9 1895.2 1011.9 1898.2 1012.9 1901.2 1013.3 1939.2 1014.8 1954.2 1015.2 1961.2 1015.0 1966.2 1014.2 1970.2 1012.7 1974.2 1009.9 1981.2 1003.6 1983.2 1002.4 1985.3 1002.0 1987.2 1002.4 1989.2 1003.6 1998.2 1011.5 2001.2 1013.1 2003.2 1013.7 2005.2 1013.9 2008.2 1013.5 2017.2 1010.4 2021.2 1010.1 2024.2 1010.8 2032.2 1014.6 2037.2 1016.3 2044.2 1017.4 2055.2 1018.0 2067.2 1018.2 2073.2 1017.3 2078.2 1015.0 2087.2 1008.0 2090.2 1007.0 2092.2 1007.3 2095.2 1008.3 2102.2 1012.2 2106.2 1013.6 2117.2 1015.1 2133.2 1016.0 2168.2 1017.1 2199.2 1017.7 2365.2 1018.0" stroke="#cc9900"/>
</g>
<g font-size="63.4" fill="#000" text-anchor="end">
<text x="2356" y="995.0">Commercial B</text>
<text x="2356" y="1108.0">Commercial A</text>
<text x="2356" y="1270.0">Ni/MgAl<tspan font-size="42.5" dy="17.5">2</tspan><tspan dy="-17.5">O</tspan><tspan font-size="42.5" dy="17.5">4</tspan></text>
<text x="2356" y="1374.2">Ni/MgO-Al<tspan font-size="42.5" dy="17.5">2</tspan><tspan dy="-17.5">O</tspan><tspan font-size="42.5" dy="17.5">3</tspan></text>
<text x="2356" y="1482.2">Ni/MgO</text>
<text x="2356" y="1587.0">Ni/Al<tspan font-size="42.5" dy="17.5">2</tspan><tspan dy="-17.5">O</tspan><tspan font-size="42.5" dy="17.5">3</tspan></text>
</g>
<g><circle cx="672.5" cy="614.0" r="14" fill="none" stroke="#000" stroke-width="2.8"/><circle cx="926.5" cy="403.0" r="14" fill="none" stroke="#000" stroke-width="2.8"/><circle cx="1140.5" cy="157.0" r="14" fill="none" stroke="#000" stroke-width="2.8"/><circle cx="1380.5" cy="792.0" r="14" fill="none" stroke="#000" stroke-width="2.8"/><circle cx="1513.5" cy="535.0" r="14" fill="none" stroke="#000" stroke-width="2.8"/><circle cx="1792.5" cy="792.0" r="14" fill="none" stroke="#000" stroke-width="2.8"/><circle cx="995.6" cy="810.0" r="15.5" fill="#000"/><circle cx="1745.5" cy="900.0" r="15.5" fill="#000"/><circle cx="1217.5" cy="1089.0" r="15.5" fill="#000"/><rect x="957.8" y="1144.7" width="29.5" height="29.5" fill="none" stroke="#000" stroke-width="3"/><rect x="1122.8" y="1177.8" width="29.5" height="29.5" fill="none" stroke="#000" stroke-width="3"/><rect x="1630.5" y="1195.8" width="29.5" height="29.5" fill="none" stroke="#000" stroke-width="3"/></g>
<g font-size="70" font-weight="bold" fill="#000" text-anchor="middle">
<text transform="translate(507.0 1262.1) scale(1.09 1)">*</text>
<text transform="translate(827.0 1251.1) scale(1.09 1)">*</text>
<text transform="translate(972.0 1304.1) scale(1.09 1)">*</text>
<text transform="translate(1179.0 1191.1) scale(1.09 1)">*</text>
<text transform="translate(1562.0 1254.1) scale(1.09 1)">*</text>
<text transform="translate(1713.7 1216.6) scale(1.09 1)">*</text>
</g>
<g font-size="95.5" font-weight="bold" fill="#000" text-anchor="middle">
<text x="268.4" y="1842">10</text>
<text x="530.5" y="1842">20</text>
<text x="792.6" y="1842">30</text>
<text x="1054.8" y="1842">40</text>
<text x="1316.9" y="1842">50</text>
<text x="1579.0" y="1842">60</text>
<text x="1841.2" y="1842">70</text>
<text x="2103.3" y="1842">80</text>
<text x="2365.4" y="1842">90</text>
</g>
<text x="1316" y="2016.5" font-size="111" font-weight="bold" text-anchor="middle">2&#952; (degree)</text>
<text transform="translate(126 853.5) rotate(-90)" x="0" y="0" font-size="111" font-weight="bold" text-anchor="middle">Intensity (a.u.)</text>
<g font-size="79" fill="#000">
<rect x="1968.3" y="122.7" width="33" height="32" fill="none" stroke="#000" stroke-width="3"/>
<text transform="translate(1976 241.4) scale(1.055 1)" font-size="64.5" font-weight="bold" text-anchor="middle">*</text>
<circle cx="1985" cy="347" r="17" fill="#000"/>
<circle cx="1985" cy="461" r="15.5" fill="none" stroke="#000" stroke-width="3"/>
<text x="2030.3" y="157">NiO</text>
<text x="2034.2" y="253.8">MgAl<tspan font-size="54" dy="21.9">2</tspan><tspan dy="-21.9">O</tspan><tspan font-size="54" dy="21.9">4</tspan></text>
<text x="2030.3" y="369.1">NiAl<tspan font-size="54" dy="21.9">2</tspan><tspan dy="-21.9">O</tspan><tspan font-size="54" dy="21.9">4</tspan></text>
<text x="2030" y="483">Al<tspan font-size="54" dy="21.9">2</tspan><tspan dy="-21.9">O</tspan><tspan font-size="54" dy="21.9">3</tspan></text>
</g>
</svg>
</body></html>
